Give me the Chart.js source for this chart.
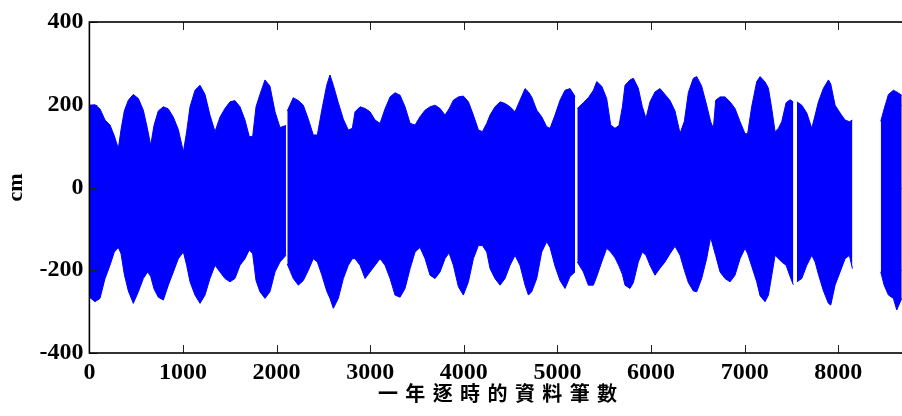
<!DOCTYPE html>
<html>
<head>
<meta charset="utf-8">
<script src="https://cdn.jsdelivr.net/npm/chart.js@4/dist/chart.umd.min.js"></script>
<style>
html,body{margin:0;padding:0;overflow:hidden;background:#fff;}
#wrap{width:912px;height:416px;position:relative;}
</style>
</head>
<body>
<div id="wrap"><canvas id="c"></canvas></div>
<script>
// Hour index (sample positions)
const hours = [0,60,113,167,220,266,309,338,373,416,469,523,576,622,655,690,736,790,843,897,950,1004,1039,1075,1128,1182,1235,1288,1342,
1395,1448,1502,1555,1609,1662,1708,1744,1780,1822,1876,1929,1983,2036,2100,2107,2114,2178,2232,2285,2339,2392,2435,2481,2535,2570,2606,2659,2713,2766,2809,
2838,2891,2945,2998,3052,3105,3158,3212,3265,3319,3372,3426,3479,3532,3586,3639,3693,3746,3799,3842,3888,3942,3995,4049,4102,4156,4198,4245,
4280,4333,4387,4440,4494,4547,4600,4654,4690,4725,4779,4832,4885,4921,4974,5028,5081,5135,5188,5199,5212,5277,5330,5384,5420,5473,5526,5569,5615,5658,5694,
5722,5775,5811,5864,5907,5946,5989,6042,6096,6149,6203,6256,6310,6356,6399,6452,6488,6541,6594,6637,6666,6691,6737,6790,6844,6897,6951,7004,7032,7075,7129,
7165,7218,7254,7290,7325,7361,7396,7443,7485,7520,7539,7558,7610,7664,7717,7753,7788,7842,7895,7920,7966,8020,8073,8119,8151,8300,8454,8490,8536,8589,8625,8678];

// Upper envelope of hourly water level (cm)
const upper = [199,200,190,163,151,125,94,140,185,211,225,215,187,140,102,150,185,195,190,170,140,86,135,195,235,247,225,175,135,
170,191,207,210,195,163,123,123,195,225,260,245,183,145,150,null,185,217,210,199,165,127,127,185,247,272,247,205,165,139,143,
183,195,191,183,163,155,190,219,229,223,195,155,151,171,187,195,199,191,175,190,211,219,221,207,175,139,135,155,
175,195,207,203,195,183,211,239,231,219,187,171,147,143,175,211,235,239,220,null,191,205,217,235,256,245,215,151,143,150,195,
247,260,264,240,195,167,207,231,239,225,210,185,131,160,230,264,268,245,199,159,143,211,219,219,207,191,159,130,130,195,256,
268,255,240,190,135,143,159,205,212,207,null,207,199,180,143,175,207,240,260,250,199,180,163,159,163,null,160,190,225,235,231,223];

// Lower envelope of hourly water level (cm)
const lower = [-265,-276,-268,-220,-188,-156,-145,-160,-210,-250,-280,-252,-220,-204,-215,-245,-265,-272,-236,-204,-172,-156,-188,-228,-260,-280,-260,-220,-188,
-204,-220,-228,-220,-188,-172,-151,-160,-225,-252,-268,-252,-204,-180,-164,null,-185,-220,-236,-225,-200,-172,-180,-210,-250,-268,-292,-268,-220,-188,-172,
-172,-188,-220,-204,-188,-172,-188,-220,-260,-265,-244,-196,-156,-145,-172,-212,-220,-204,-172,-158,-188,-240,-260,-228,-172,-140,-140,-156,
-196,-220,-236,-220,-188,-164,-188,-236,-260,-252,-220,-156,-131,-145,-190,-225,-244,-215,-204,null,-180,-204,-236,-236,-215,-180,-147,-156,-170,-190,-210,
-236,-244,-230,-180,-156,-164,-188,-212,-195,-180,-160,-142,-164,-200,-230,-250,-252,-220,-172,-120,-145,-165,-204,-220,-228,-212,-172,-147,-160,-190,-228,
-262,-276,-260,-212,-164,-172,-180,-188,-215,-235,null,-228,-220,-188,-164,-180,-210,-250,-280,-284,-236,-204,-172,-164,-196,null,-204,-236,-260,-268,-296,-268];

const xTicks = [0,1000,2000,3000,4000,5000,6000,7000,8000];
const yTicks = [-400,-200,0,200,400];
const xTitle = '一年逐時的資料筆數';
const yTitle = 'cm';

const upperPts = hours.map((h,i)=>({x:h,y:upper[i]}));
const lowerPts = hours.map((h,i)=>({x:h,y:lower[i]}));

const tickFont = {family:'"Liberation Serif","Times New Roman",serif', size:24, weight:'bold'};

const framePlugin = {
  id:'framePlugin',
  afterDatasetsDraw(chart){
    const {ctx, chartArea:{left,right,top,bottom}, scales:{x,y}} = chart;
    ctx.save();
    ctx.strokeStyle = '#222';
    ctx.lineWidth = 1;
    ctx.beginPath();
    xTicks.forEach(v=>{
      const px = Math.round(x.getPixelForValue(v))+0.5;
      ctx.moveTo(px,bottom); ctx.lineTo(px,bottom-8);
      ctx.moveTo(px,top); ctx.lineTo(px,top+8);
    });
    yTicks.forEach(v=>{
      const py = Math.round(y.getPixelForValue(v))+0.5;
      ctx.moveTo(left,py); ctx.lineTo(left+8,py);
      ctx.moveTo(right,py); ctx.lineTo(right-8,py);
    });
    ctx.stroke();
    ctx.strokeStyle = '#000';
    ctx.lineWidth = 1.6;
    ctx.strokeRect(left,top,right-left,bottom-top);
    ctx.fillStyle = '#000';
    ctx.font = 'bold 20px "Noto Sans CJK TC"';
    ctx.letterSpacing = '7.4px';
    ctx.textAlign = 'center';
    ctx.textBaseline = 'middle';
    ctx.fillText(xTitle, 497.5 + 3.7, 393);
    ctx.restore();
  }
};

new Chart(document.getElementById('c'), {
  type:'line',
  data:{
    datasets:[
      {label:'upper', data:upperPts, borderColor:'#0000ff', backgroundColor:'#0000ff', borderWidth:1, pointRadius:0, fill:'+1', tension:0, spanGaps:false},
      {label:'lower', data:lowerPts, borderColor:'#0000ff', backgroundColor:'#0000ff', borderWidth:1, pointRadius:0, fill:false, tension:0, spanGaps:false}
    ]
  },
  options:{
    responsive:true,
    maintainAspectRatio:false,
    devicePixelRatio:1,
    animation:false,
    layout:{padding:{top:22,right:2.6,left:0,bottom:0}},
    plugins:{legend:{display:false}, tooltip:{enabled:false}},
    scales:{
      x:{
        type:'linear', min:0, max:8760,
        grid:{display:false, drawTicks:false},
        border:{display:false},
        afterBuildTicks:(s)=>{ s.ticks = xTicks.map(v=>({value:v})); },
        afterFit:(s)=>{ s.height = 63; },
        ticks:{font:tickFont, color:'#000', padding:5, maxRotation:0, autoSkip:false, callback:(v)=>String(v)}
      },
      y:{
        type:'linear', min:-400, max:400,
        grid:{display:false, drawTicks:false},
        border:{display:false},
        afterBuildTicks:(s)=>{ s.ticks = yTicks.map(v=>({value:v})); },
        afterFit:(s)=>{ s.width = 89.4; },
        ticks:{font:tickFont, color:'#000', padding:6, callback:(v)=>String(v)},
        title:{display:true, text:yTitle, color:'#000', font:{family:'"Liberation Serif",serif', size:22, weight:'bold'}, padding:{top:3,bottom:0}}
      }
    }
  },
  plugins:[framePlugin]
});
</script>
</body>
</html>
